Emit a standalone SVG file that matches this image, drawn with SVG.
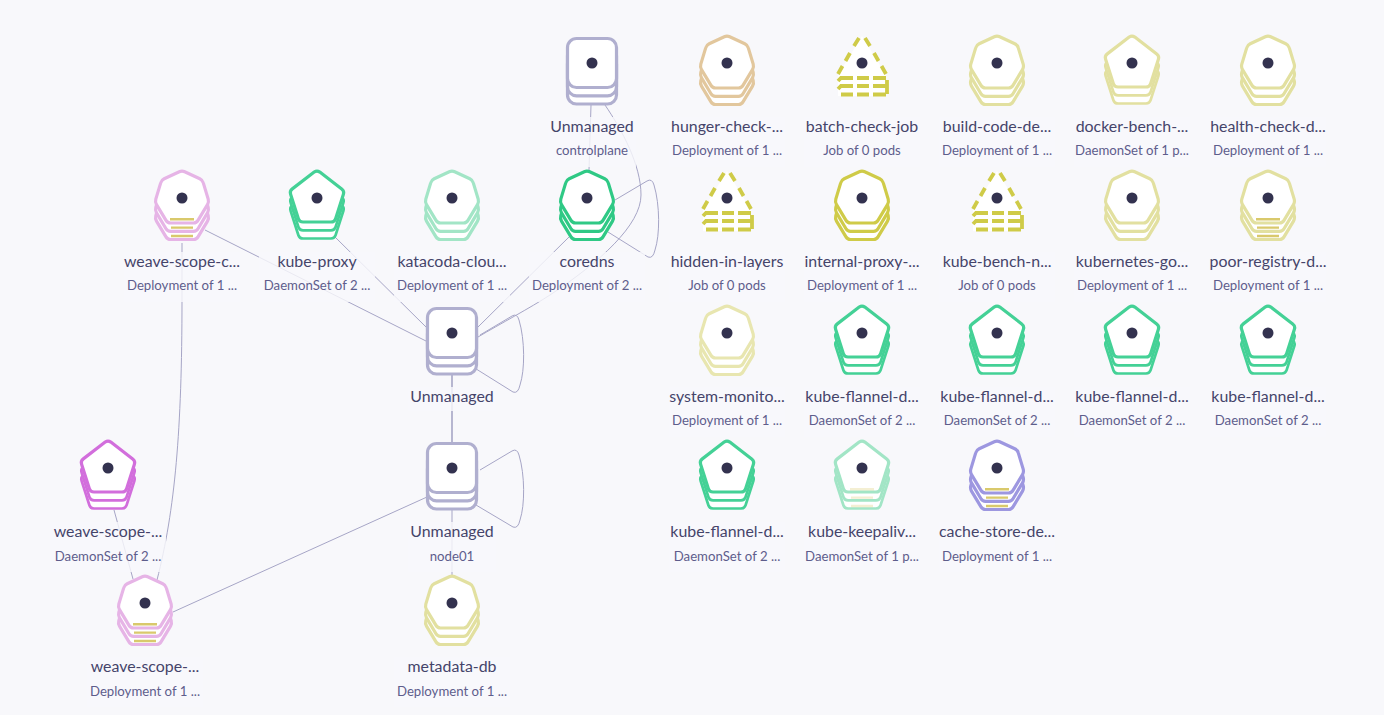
<svg xmlns="http://www.w3.org/2000/svg" xmlns:xlink="http://www.w3.org/1999/xlink" width="1384" height="715" viewBox="0 0 1384 715">
<style>
text{text-anchor:middle;font-family:Lato,"Liberation Sans",sans-serif}
.t{font-size:15.9px;fill:#45446a}
.s{font-size:13.200px;fill:#5e5d8c}
.bk{fill:#f8f8fb;fill-opacity:.82}
.e{fill:none;stroke:#a6a5c6;stroke-width:1}
.sh{fill:#fff;stroke-width:3.200;stroke-linejoin:round}
.dot{fill:#33324f;stroke:none}
.st{stroke:#d9c96c;stroke-width:2.400;fill:none}
.d{fill:none;stroke-width:3.800;stroke-linecap:butt}
.gry{stroke:#b0afcf}.tan{stroke:#e2c79d}.oli{stroke:#cfcb48}.lim{stroke:#e2e0a0}.lim2{stroke:#e8e6b0}
.pnk{stroke:#e6b4e6}.mag{stroke:#d26edc}.grn{stroke:#44d196}.grn2{stroke:#2fc985}.mnt{stroke:#a2e5c6}.pur{stroke:#9d97e0}
</style>
<defs>
<path id="hp" d="M2.700 -26.200L17.800 -19.300Q20.500 -18 21.300 -15.100L26.200 1.100Q27 4 25.500 6.600L16 22.400Q14.500 25 11.500 25L-11.500 25Q-14.500 25 -16 22.400L-25.500 6.600Q-27 4 -26.200 1.100L-21.300 -15.100Q-20.500 -18 -17.800 -19.300L-2.700 -26.200Q0 -27.500 2.700 -26.200Z"/>
<path id="pn" d="M2.800 -25.900L24.700 -9.100Q27.500 -7 26.400 -3.700L18.600 20.700Q17.500 24 14 24L-14 24Q-17.500 24 -18.600 20.700L-26.400 -3.700Q-27.500 -7 -24.700 -9.100L-2.800 -25.900Q0 -28 2.800 -25.900Z"/>
<rect id="sq" x="-24.500" y="-24.500" width="49" height="49" rx="9"/>
<g id="hept" class="sh"><use href="#hp" y="16.500"/><use href="#hp" y="8.300"/><use href="#hp"/><circle class="dot" r="5.500"/></g>
<g id="pent" class="sh"><use href="#pn" y="16.500" style="stroke-width:2.700"/><use href="#pn" y="8.300" style="stroke-width:2.700"/><use href="#pn"/><circle class="dot" r="5.500"/></g>
<g id="sqr" class="sh"><use href="#sq" y="16.500"/><use href="#sq" y="8.300"/><use href="#sq"/><circle class="dot" r="5.500"/></g>
<g id="stripes" class="st"><path d="M-12 21.200H12M-11 29.600H11M-11 38H11"/></g>
<g id="tri">
<polygon points="0,-27 24,12 24,33 -24,33 -24,12" fill="#fff" stroke="none"/>
<path class="d" d="M-3 -25L-8 -17M-12 -10L-16.500 -2M-19.500 3L-24 11M3 -25L8 -17M12 -10L16.500 -2M19.500 3L24 11"/>
<path class="d" d="M-24 18L-21 15H-9M-5 15H7M11 15H24M-24 26L-21 23H-9M-5 23H7M11 23H24M-21 31.500H-9M-5 31.500H7M11 31.500H24M25 17V31"/>
<circle class="dot" r="5.500"/></g>
</defs>
<rect width="1384" height="715" fill="#f8f8fb"/>
<g id="connectors">
<path class="e" d="M591 105L589 170"/>
<path class="e" d="M605 105C622 130 641 165 641 195C641 225 600 262 550 295C530 308 500 324 478 337"/>
<path class="e" d="M570 236L478 327"/>
<path class="e" d="M615 200L647 181Q652 178 654 185C660 205 660 235 655 250Q653 259 648 257L608 232"/>
<path class="e" d="M480 335L512 316Q517 313 519 320C525 340 525 370 520 385Q518 394 513 392L473 367"/>
<path class="e" d="M480 470L512 451Q517 448 519 455C525 475 525 505 520 520Q518 529 513 527L476 505"/>
<path class="e" style="stroke-width:1.600" d="M452 375V443"/>
<path class="e" d="M452 510V576"/>
<path class="e" d="M427 497L173 612"/>
<path class="e" d="M182 243V300C182 430 175 510 157 580"/>
<path class="e" d="M205 230L426 341"/>
<path class="e" d="M335 237L426 327"/>
<path class="e" d="M114 510L133 579"/>
</g>
<g id="n1" transform="translate(592,63)"><use href="#sqr" class="gry"/><rect class="bk" x="-44" y="54" width="88" height="50"/><text class="t" y="69">Unmanaged</text><text class="s" y="92">controlplane</text></g>
<g id="n2" transform="translate(727,63)"><use href="#hept" class="tan"/><rect class="bk" x="-58" y="54" width="116" height="50"/><text class="t" y="69">hunger-check-...</text><text class="s" y="92">Deployment of 1 ...</text></g>
<g id="n3" transform="translate(862,63)"><use href="#tri" class="oli"/><rect class="bk" x="-58" y="54" width="116" height="50"/><text class="t" y="69">batch-check-job</text><text class="s" y="92">Job of 0 pods</text></g>
<g id="n4" transform="translate(997,63)"><use href="#hept" class="lim"/><rect class="bk" x="-58" y="54" width="116" height="50"/><text class="t" y="69">build-code-de...</text><text class="s" y="92">Deployment of 1 ...</text></g>
<g id="n5" transform="translate(1132,63)"><use href="#pent" class="lim"/><rect class="bk" x="-58" y="54" width="116" height="50"/><text class="t" y="69">docker-bench-...</text><text class="s" y="92">DaemonSet of 1 p...</text></g>
<g id="n6" transform="translate(1268,63)"><use href="#hept" class="lim"/><rect class="bk" x="-58" y="54" width="116" height="50"/><text class="t" y="69">health-check-d...</text><text class="s" y="92">Deployment of 1 ...</text></g>
<g id="n7" transform="translate(182,198)"><use href="#hept" class="pnk"/><use href="#stripes"/><rect class="bk" x="-58" y="54" width="116" height="50"/><text class="t" y="69">weave-scope-c...</text><text class="s" y="92">Deployment of 1 ...</text></g>
<g id="n8" transform="translate(317,198)"><use href="#pent" class="grn"/><rect class="bk" x="-58" y="54" width="116" height="50"/><text class="t" y="69">kube-proxy</text><text class="s" y="92">DaemonSet of 2 ...</text></g>
<g id="n9" transform="translate(452,198)"><use href="#hept" class="mnt"/><rect class="bk" x="-58" y="54" width="116" height="50"/><text class="t" y="69">katacoda-clou...</text><text class="s" y="92">Deployment of 1 ...</text></g>
<g id="n10" transform="translate(587,198)"><use href="#hept" class="grn2"/><rect class="bk" x="-58" y="54" width="116" height="50"/><text class="t" y="69">coredns</text><text class="s" y="92">Deployment of 2 ...</text></g>
<g id="n11" transform="translate(727,198)"><use href="#tri" class="oli"/><rect class="bk" x="-58" y="54" width="116" height="50"/><text class="t" y="69">hidden-in-layers</text><text class="s" y="92">Job of 0 pods</text></g>
<g id="n12" transform="translate(862,198)"><use href="#hept" class="oli"/><rect class="bk" x="-58" y="54" width="116" height="50"/><text class="t" y="69">internal-proxy-...</text><text class="s" y="92">Deployment of 1 ...</text></g>
<g id="n13" transform="translate(997,198)"><use href="#tri" class="oli"/><rect class="bk" x="-58" y="54" width="116" height="50"/><text class="t" y="69">kube-bench-n...</text><text class="s" y="92">Job of 0 pods</text></g>
<g id="n14" transform="translate(1132,198)"><use href="#hept" class="lim"/><rect class="bk" x="-58" y="54" width="116" height="50"/><text class="t" y="69">kubernetes-go...</text><text class="s" y="92">Deployment of 1 ...</text></g>
<g id="n15" transform="translate(1268,198)"><use href="#hept" class="lim"/><use href="#stripes"/><rect class="bk" x="-58" y="54" width="116" height="50"/><text class="t" y="69">poor-registry-d...</text><text class="s" y="92">Deployment of 1 ...</text></g>
<g id="n16" transform="translate(452,333)"><use href="#sqr" class="gry"/><rect class="bk" x="-44" y="54" width="88" height="24"/><text class="t" y="69">Unmanaged</text></g>
<g id="n17" transform="translate(727,333)"><use href="#hept" class="lim2"/><rect class="bk" x="-58" y="54" width="116" height="50"/><text class="t" y="69">system-monito...</text><text class="s" y="92">Deployment of 1 ...</text></g>
<g id="n18" transform="translate(862,333)"><use href="#pent" class="grn"/><rect class="bk" x="-58" y="54" width="116" height="50"/><text class="t" y="69">kube-flannel-d...</text><text class="s" y="92">DaemonSet of 2 ...</text></g>
<g id="n19" transform="translate(997,333)"><use href="#pent" class="grn"/><rect class="bk" x="-58" y="54" width="116" height="50"/><text class="t" y="69">kube-flannel-d...</text><text class="s" y="92">DaemonSet of 2 ...</text></g>
<g id="n20" transform="translate(1132,333)"><use href="#pent" class="grn"/><rect class="bk" x="-58" y="54" width="116" height="50"/><text class="t" y="69">kube-flannel-d...</text><text class="s" y="92">DaemonSet of 2 ...</text></g>
<g id="n21" transform="translate(1268,333)"><use href="#pent" class="grn"/><rect class="bk" x="-58" y="54" width="116" height="50"/><text class="t" y="69">kube-flannel-d...</text><text class="s" y="92">DaemonSet of 2 ...</text></g>
<g id="n22" transform="translate(108,468)"><use href="#pent" class="mag"/><rect class="bk" x="-58" y="54" width="116" height="50"/><text class="t" y="69">weave-scope-...</text><text class="s" y="92.500">DaemonSet of 2 ...</text></g>
<g id="n23" transform="translate(452,468)"><use href="#sqr" class="gry"/><rect class="bk" x="-44" y="54" width="88" height="50"/><text class="t" y="69">Unmanaged</text><text class="s" y="92.500">node01</text></g>
<g id="n24" transform="translate(727,468)"><use href="#pent" class="grn"/><rect class="bk" x="-58" y="54" width="116" height="50"/><text class="t" y="69">kube-flannel-d...</text><text class="s" y="92.500">DaemonSet of 2 ...</text></g>
<g id="n25" transform="translate(862,468)"><use href="#pent" class="mnt"/><use href="#stripes" opacity=".3"/><rect class="bk" x="-58" y="54" width="116" height="50"/><text class="t" y="69">kube-keepaliv...</text><text class="s" y="92.500">DaemonSet of 1 p...</text></g>
<g id="n26" transform="translate(997,468)"><use href="#hept" class="pur"/><use href="#stripes"/><rect class="bk" x="-58" y="54" width="116" height="50"/><text class="t" y="69">cache-store-de...</text><text class="s" y="92.500">Deployment of 1 ...</text></g>
<g id="n27" transform="translate(145,603)"><use href="#hept" class="pnk"/><use href="#stripes"/><rect class="bk" x="-58" y="54" width="116" height="50"/><text class="t" y="69">weave-scope-...</text><text class="s" y="92.500">Deployment of 1 ...</text></g>
<g id="n28" transform="translate(452,603)"><use href="#hept" class="lim"/><rect class="bk" x="-58" y="54" width="116" height="50"/><text class="t" y="69">metadata-db</text><text class="s" y="92.500">Deployment of 1 ...</text></g>
</svg>
